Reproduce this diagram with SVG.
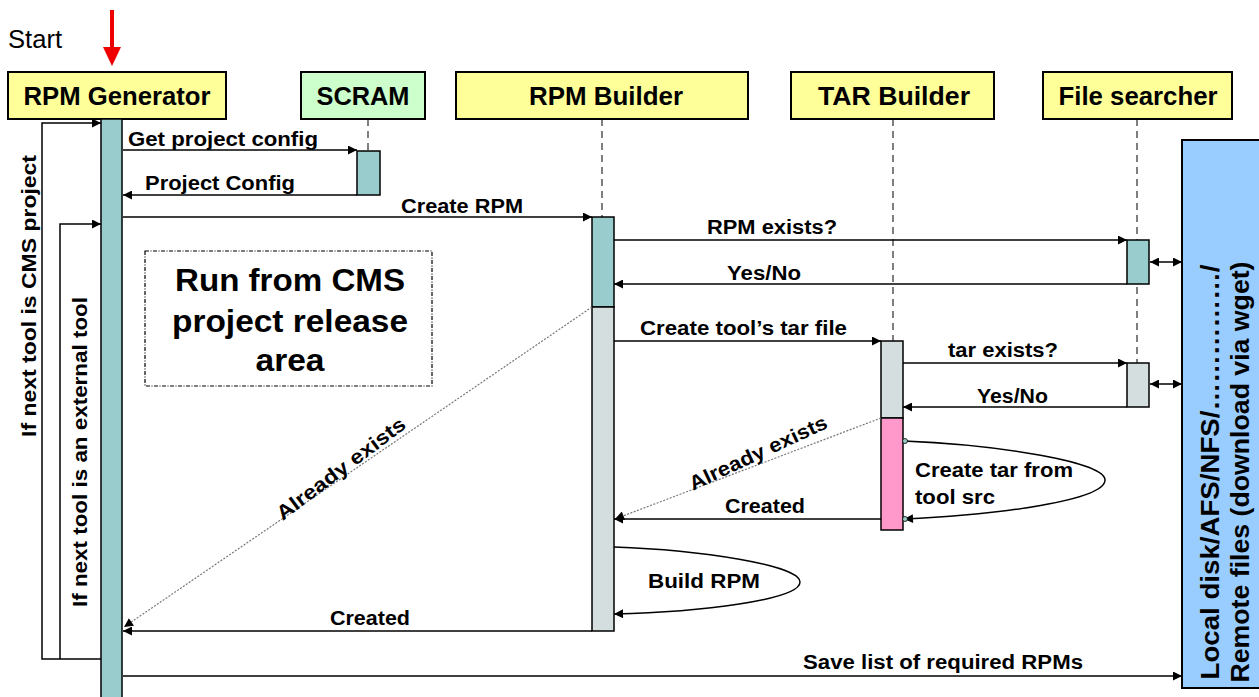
<svg xmlns="http://www.w3.org/2000/svg" width="1259" height="697" viewBox="0 0 1259 697">
<style>
.hdr{font-family:"Liberation Sans",Arial,sans-serif;font-weight:bold;font-size:25px;text-anchor:middle;fill:#000}
.lbl{font-family:"Liberation Sans",Arial,sans-serif;font-weight:bold;font-size:20px;fill:#000}
.big{font-family:"Liberation Sans",Arial,sans-serif;font-weight:bold;font-size:32px;text-anchor:middle;fill:#000}
.side{font-family:"Liberation Sans",Arial,sans-serif;font-weight:bold;font-size:25px;text-anchor:middle;fill:#000}
.box{stroke:#000;stroke-width:2}
.life{stroke:#555;stroke-width:1.5;stroke-dasharray:7,5;fill:none}
.msg{stroke:#000;stroke-width:1.5;fill:none}
.dot{stroke:#777;stroke-width:1.2;stroke-dasharray:2,1.5;fill:none}
.act{stroke:#000;stroke-width:1.5}
</style>
<defs>
<marker id="ah" viewBox="0 0 10 10" refX="10" refY="5" markerWidth="11" markerHeight="9" markerUnits="userSpaceOnUse" orient="auto-start-reverse"><path d="M0,0 L10,5 L0,10 z" fill="#000"/></marker>
</defs>
<text x="8" y="48" font-family="Liberation Sans, Arial, sans-serif" font-size="25" fill="#000" textLength="54" lengthAdjust="spacingAndGlyphs">Start</text>
<g id="start-arrow"><line x1="112" y1="10" x2="112" y2="50" stroke="#e00" stroke-width="4"/><path d="M103,47 L121,47 L112,66 z" fill="#e00"/></g>

<g id="lifelines">
<line class="life" x1="368" y1="119" x2="368" y2="151"/>
<line class="life" x1="602" y1="119" x2="602" y2="217"/>
<line class="life" x1="893" y1="119" x2="893" y2="341"/>
<line class="life" x1="1137" y1="119" x2="1137" y2="363"/>
</g>

<g id="rpm-generator"><rect class="box" x="8" y="72" width="218" height="47" fill="#ffff99"/><text class="hdr" x="117" y="105" textLength="187" lengthAdjust="spacingAndGlyphs">RPM Generator</text>
<rect class="act" x="101" y="119" width="21" height="580" fill="#99cccc"/></g>
<g id="scram"><rect class="box" x="301" y="72" width="124" height="47" fill="#ccffcc"/><text class="hdr" x="363" y="105" textLength="93" lengthAdjust="spacingAndGlyphs">SCRAM</text>
<rect class="act" x="357" y="151" width="23" height="44" fill="#99cccc"/></g>
<g id="rpm-builder"><rect class="box" x="456" y="72" width="292" height="47" fill="#ffff99"/><text class="hdr" x="606" y="105" textLength="154" lengthAdjust="spacingAndGlyphs">RPM Builder</text>
<rect class="act" x="592" y="217" width="22" height="90" fill="#99cccc"/><rect class="act" x="592" y="307" width="22" height="324" fill="#d5dede"/></g>
<g id="tar-builder"><rect class="box" x="791" y="72" width="203" height="47" fill="#ffff99"/><text class="hdr" x="894" y="105" textLength="152" lengthAdjust="spacingAndGlyphs">TAR Builder</text>
<rect class="act" x="881" y="341" width="22" height="77" fill="#d5dede"/><rect class="act" x="881" y="418" width="22" height="112" fill="#ff99cc"/></g>
<g id="file-searcher"><rect class="box" x="1043" y="72" width="189" height="47" fill="#ffff99"/><text class="hdr" x="1138" y="105" textLength="159" lengthAdjust="spacingAndGlyphs">File searcher</text>
<rect class="act" x="1127" y="240" width="22" height="44" fill="#99cccc"/><rect class="act" x="1127" y="363" width="22" height="44" fill="#d5dede"/></g>
<g id="storage"><rect class="box" x="1182" y="140" width="80" height="548" fill="#99ccff"/>
<text class="side" transform="translate(1219,472) rotate(-90)" textLength="415" lengthAdjust="spacingAndGlyphs">Local disk/AFS/NFS/……………/</text>
<text class="side" transform="translate(1249,472) rotate(-90)" textLength="421" lengthAdjust="spacingAndGlyphs">Remote files (download via wget)</text></g>
<g id="note"><rect x="145" y="251" width="287" height="135" fill="none" stroke="#000" stroke-width="1.2" stroke-dasharray="4,1.5,1,1.5"/>
<text class="big" x="290" y="291" textLength="230" lengthAdjust="spacingAndGlyphs">Run from CMS</text><text class="big" x="290" y="332" textLength="236" lengthAdjust="spacingAndGlyphs">project release</text><text class="big" x="290" y="371" textLength="69" lengthAdjust="spacingAndGlyphs">area</text></g>

<g id="connectors">
<line class="msg" x1="123" y1="150" x2="357" y2="150" marker-end="url(#ah)"/>
<line class="msg" x1="357" y1="195" x2="123" y2="195" marker-end="url(#ah)"/>
<line class="msg" x1="123" y1="217" x2="592" y2="217" marker-end="url(#ah)"/>
<line class="msg" x1="614" y1="240" x2="1127" y2="240" marker-end="url(#ah)"/>
<line class="msg" x1="1127" y1="284" x2="614" y2="284" marker-end="url(#ah)"/>
<line class="msg" x1="1150" y1="262" x2="1182" y2="262" marker-start="url(#ah)" marker-end="url(#ah)"/>
<line class="msg" x1="614" y1="341" x2="881" y2="341" marker-end="url(#ah)"/>
<line class="msg" x1="903" y1="363" x2="1127" y2="363" marker-end="url(#ah)"/>
<line class="msg" x1="1127" y1="407" x2="903" y2="407" marker-end="url(#ah)"/>
<line class="msg" x1="1150" y1="384" x2="1182" y2="384" marker-start="url(#ah)" marker-end="url(#ah)"/>
<path class="dot" d="M881,418 L615,519" marker-end="url(#ah)"/>
<line class="msg" x1="881" y1="519" x2="614" y2="519" marker-end="url(#ah)"/>
<path class="msg" d="M904,441 C1000,445 1105,462 1105,480 C1105,500 1000,515 904,519" marker-end="url(#ah)"/>
<circle cx="905" cy="441" r="2.5" fill="#99cccc" stroke="#000" stroke-width="0.8"/>
<circle cx="905" cy="519" r="2.5" fill="#99cccc" stroke="#000" stroke-width="0.8"/>
<path class="msg" d="M614,547 C700,550 800,565 800,582 C800,600 700,612 614,614" marker-end="url(#ah)"/>
<path class="dot" d="M592,307 L124,627" marker-end="url(#ah)"/>
<line class="msg" x1="592" y1="631" x2="123" y2="631" marker-end="url(#ah)"/>
<line class="msg" x1="123" y1="676" x2="1182" y2="676" marker-end="url(#ah)"/>
<path class="msg" d="M101,659 L42,659 L42,123 L101,123" marker-end="url(#ah)"/>
<path class="msg" d="M60,659 L60,224 L101,224" marker-end="url(#ah)"/>
</g>

<g id="labels">
<text class="lbl" x="128" y="146" textLength="190" lengthAdjust="spacingAndGlyphs">Get project config</text>
<text class="lbl" x="145" y="190" textLength="150" lengthAdjust="spacingAndGlyphs">Project Config</text>
<text class="lbl" x="401" y="213" textLength="122" lengthAdjust="spacingAndGlyphs">Create RPM</text>
<text class="lbl" x="707" y="234" textLength="130" lengthAdjust="spacingAndGlyphs">RPM exists?</text>
<text class="lbl" x="727" y="280" textLength="74" lengthAdjust="spacingAndGlyphs">Yes/No</text>
<text class="lbl" x="640" y="335" textLength="207" lengthAdjust="spacingAndGlyphs">Create tool’s tar file</text>
<text class="lbl" x="948" y="357" textLength="110" lengthAdjust="spacingAndGlyphs">tar exists?</text>
<text class="lbl" x="977" y="403" textLength="71" lengthAdjust="spacingAndGlyphs">Yes/No</text>
<text class="lbl" transform="translate(761,459) rotate(-25)" text-anchor="middle" textLength="150" lengthAdjust="spacingAndGlyphs">Already exists</text>
<text class="lbl" x="725" y="513" textLength="80" lengthAdjust="spacingAndGlyphs">Created</text>
<text class="lbl" x="915" y="477" textLength="158" lengthAdjust="spacingAndGlyphs">Create tar from</text>
<text class="lbl" x="915" y="504" textLength="80" lengthAdjust="spacingAndGlyphs">tool src</text>
<text class="lbl" x="648" y="588" textLength="112" lengthAdjust="spacingAndGlyphs">Build RPM</text>
<text class="lbl" transform="translate(345,474) rotate(-37)" text-anchor="middle" textLength="156" lengthAdjust="spacingAndGlyphs">Already exists</text>
<text class="lbl" x="330" y="625" textLength="80" lengthAdjust="spacingAndGlyphs">Created</text>
<text class="lbl" x="803" y="669" textLength="280" lengthAdjust="spacingAndGlyphs">Save list of required RPMs</text>
<text class="lbl" transform="translate(36,296) rotate(-90)" text-anchor="middle" textLength="282" lengthAdjust="spacingAndGlyphs">If next tool is CMS project</text>
<text class="lbl" transform="translate(87,452) rotate(-90)" text-anchor="middle" textLength="310" lengthAdjust="spacingAndGlyphs">If next tool is an external tool</text>
</g>
</svg>
